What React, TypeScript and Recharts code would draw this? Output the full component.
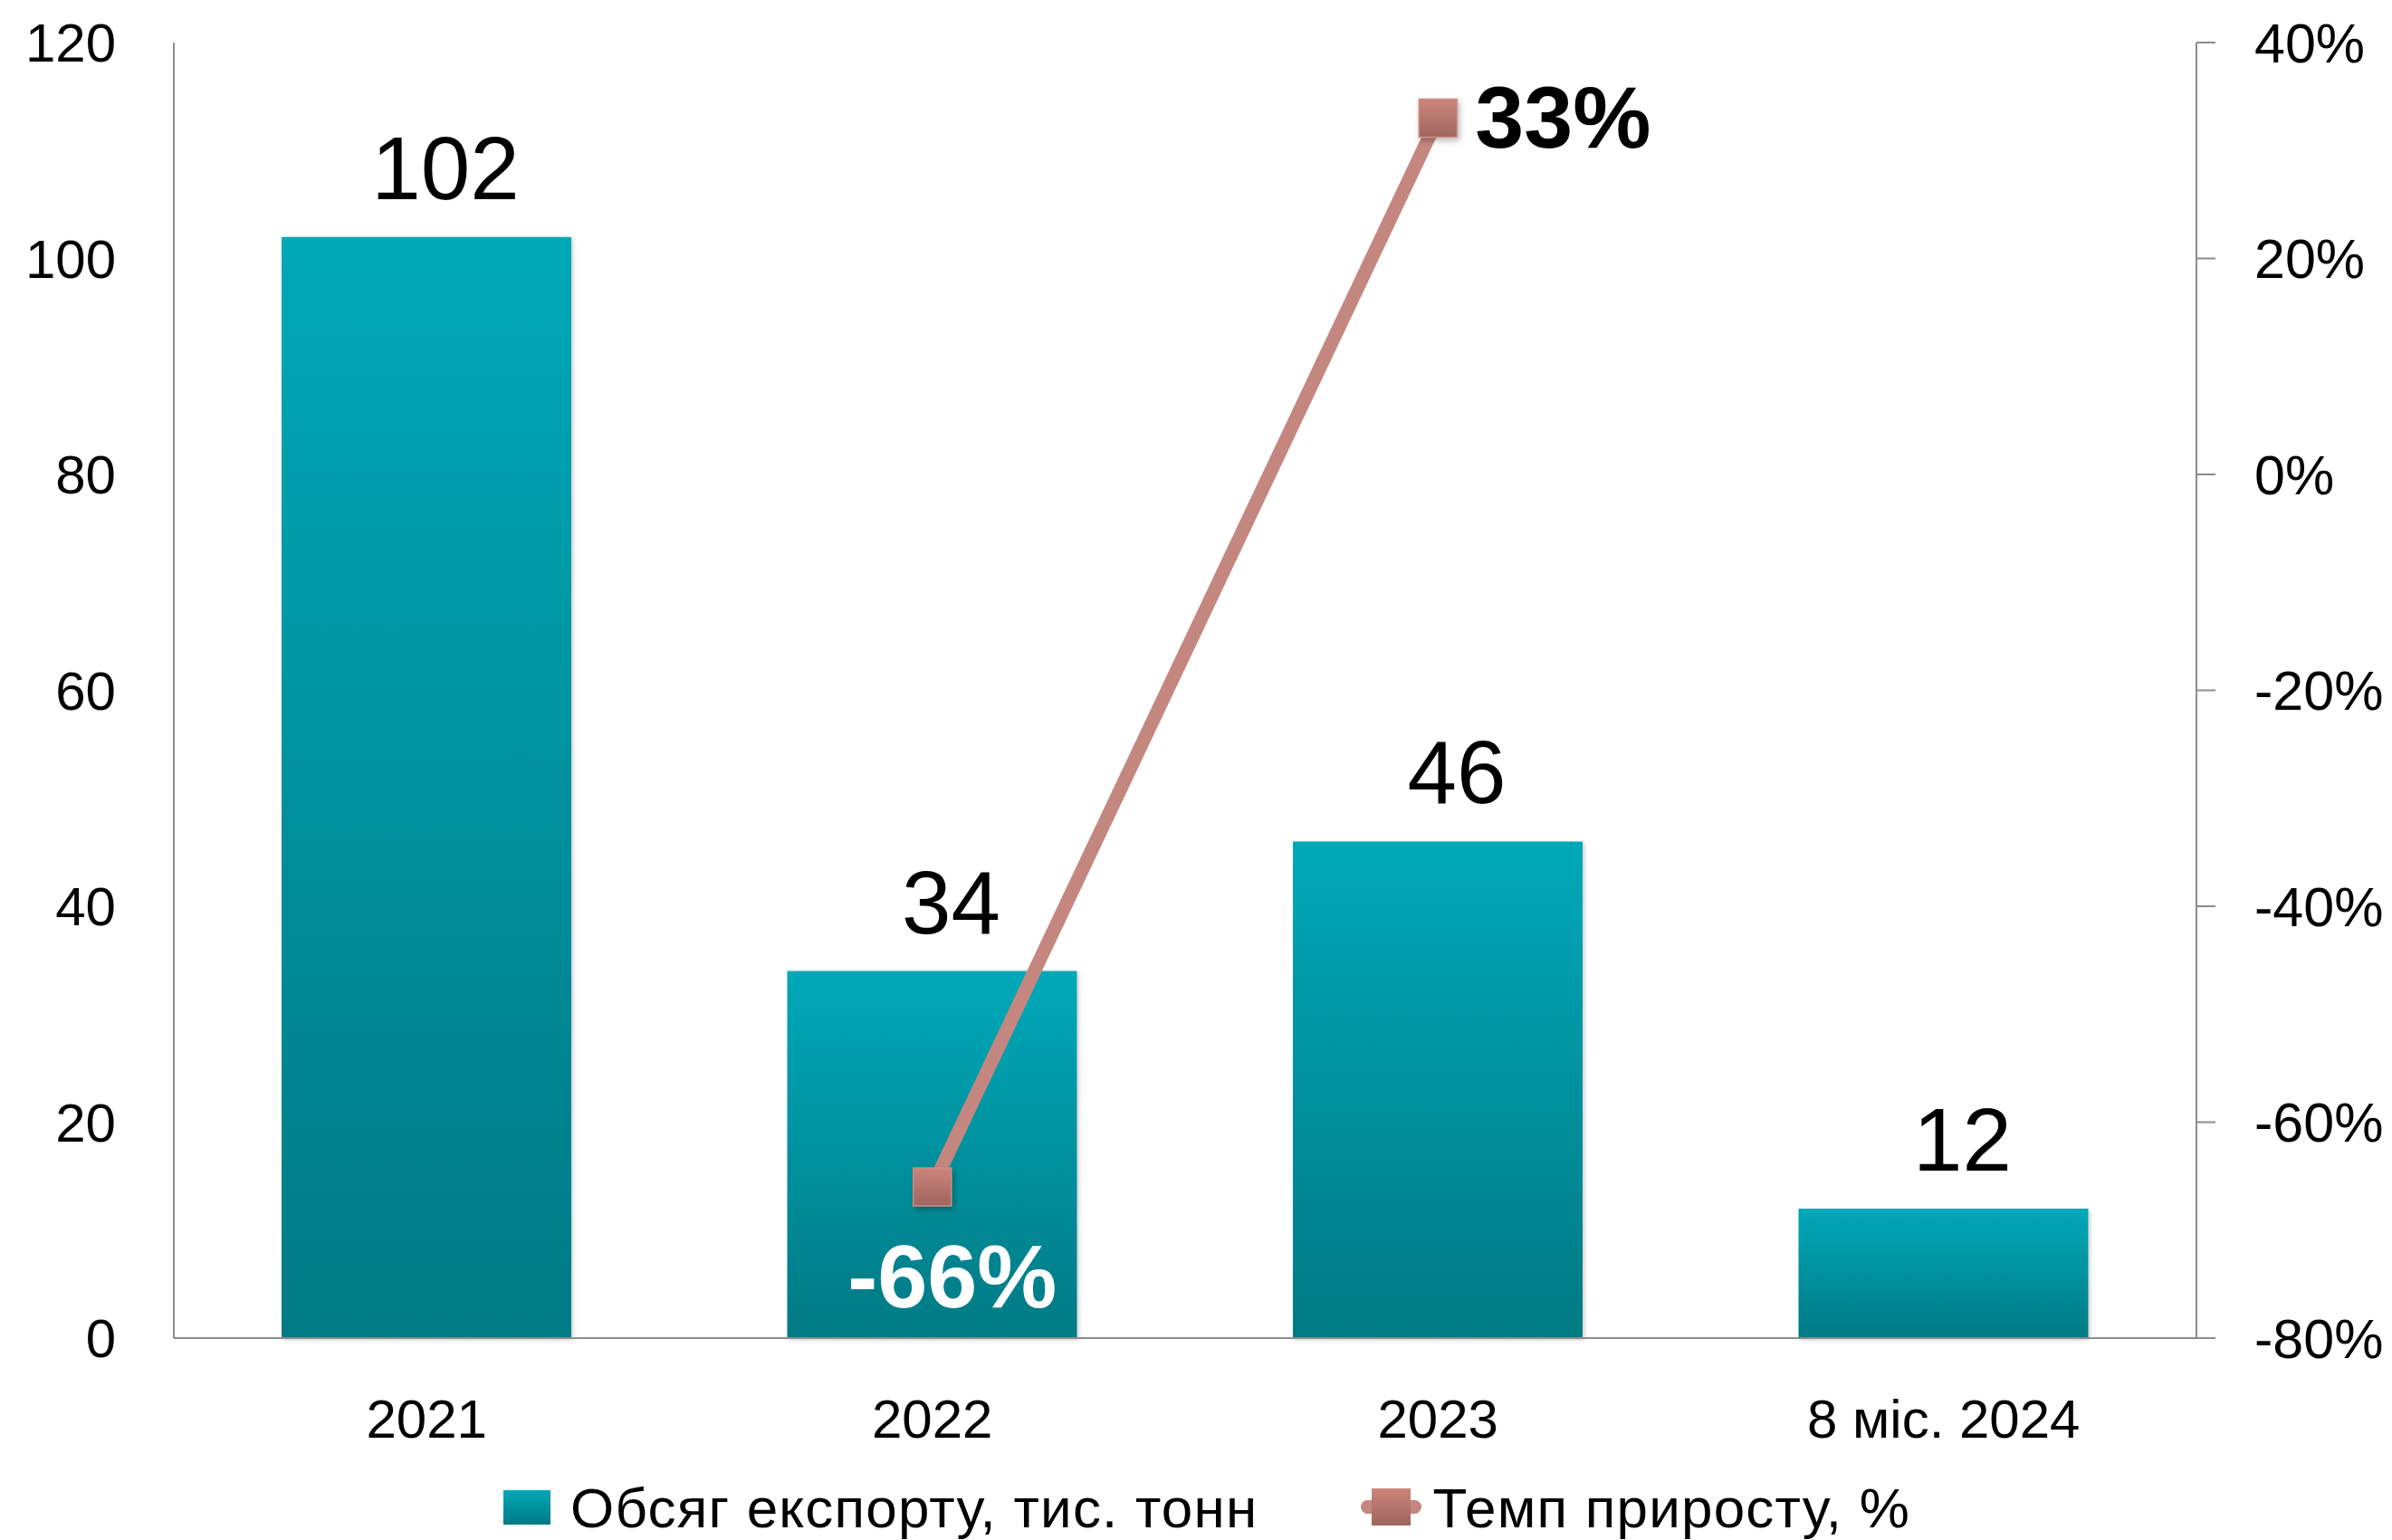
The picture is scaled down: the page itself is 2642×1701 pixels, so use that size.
import React from 'react';
import { ComposedChart, Bar, Line, XAxis, YAxis, LabelList } from 'recharts';

const categories = ['2021', '2022', '2023', '8 міс. 2024'];
const exportVolume = [102, 34, 46, 12];
const growthRate: (number | null)[] = [null, -66, 33, null];
const leftTicks = [0, 20, 40, 60, 80, 100, 120];
const rightTicks = [-80, -60, -40, -20, 0, 20, 40];
const seriesNames = ['Обсяг експорту, тис. тонн', 'Темп приросту, %'];

const data = categories.map((c, i) => ({
  name: c,
  volume: exportVolume[i],
  growth: growthRate[i],
}));

const FONT = '"Liberation Sans", Arial, sans-serif';
const AXIS = '#8c8c8c';
const LINE = '#C4877F';

const BarLabel = (props: any) => {
  const { x, y, width, value } = props;
  return (
    <text x={x + width / 2 + 21} y={y - 42} textAnchor="middle" fontSize={98} fill="#000" fontFamily={FONT}>
      {value}
    </text>
  );
};

const GrowthLabel = (props: any) => {
  const { x, y, value } = props;
  if (value == null || x == null || y == null) return null;
  if (value >= 0) {
    return (
      <text x={x + 41} y={y + 33} fontSize={97} fontWeight="bold" fill="#000" fontFamily={FONT}>
        {value}%
      </text>
    );
  }
  return (
    <text x={x + 22} y={y + 133} textAnchor="middle" fontSize={99} fontWeight="bold" fill="#fff" fontFamily={FONT}>
      {value}%
    </text>
  );
};

const SquareDot = (props: any) => {
  const { cx, cy, index } = props;
  if (cx == null || cy == null || props.value == null) return <g key={`d${index}`} />;
  return (
    <rect
      key={`d${index}`}
      x={cx - 21}
      y={cy - 21}
      width={42}
      height={42}
      fill="url(#markerGrad)"
      stroke="#CC8E86"
      strokeWidth={1.5}
      filter="url(#softShadow)"
    />
  );
};

export default function App() {
  return (
    <div
      style={{
        position: 'absolute',
        left: 0,
        top: 0,
        width: 2642,
        height: 1701,
        background: '#fff',
        fontFamily: FONT,
      }}
    >
      <svg width={0} height={0} style={{ position: 'absolute' }}>
        <defs>
          <linearGradient id="barGrad" x1="0" y1="0" x2="0" y2="1">
            <stop offset="0%" stopColor="#00A8B8" />
            <stop offset="100%" stopColor="#007A84" />
          </linearGradient>
          <linearGradient id="markerGrad" x1="0" y1="0" x2="0" y2="1">
            <stop offset="0%" stopColor="#CC857B" />
            <stop offset="100%" stopColor="#A0655F" />
          </linearGradient>
          <filter id="softShadow" x="-20%" y="-20%" width="150%" height="150%">
            <feDropShadow dx="2" dy="3" stdDeviation="3" floodColor="#000" floodOpacity="0.3" />
          </filter>
          <filter id="barShadow" x="-5%" y="-5%" width="110%" height="110%">
            <feDropShadow dx="2" dy="2" stdDeviation="2" floodColor="#000" floodOpacity="0.2" />
          </filter>
        </defs>
      </svg>
      <ComposedChart
        width={2642}
        height={1701}
        data={data}
        margin={{ top: 47, right: 0, bottom: 123, left: 0 }}
        barSize={320}
        style={{ fontFamily: FONT }}
      >
        <XAxis
          dataKey="name"
          tickLine={false}
          tickSize={0}
          tickMargin={67}
          axisLine={{ stroke: AXIS, strokeWidth: 2 }}
          tick={{ fontSize: 60, fill: '#000', fontFamily: FONT }}
          height={100}
          interval={0}
        />
        <YAxis
          yAxisId="left"
          domain={[0, 120]}
          ticks={leftTicks}
          width={192}
          tickLine={false}
          tickSize={0}
          tickMargin={64}
          axisLine={{ stroke: AXIS, strokeWidth: 2 }}
          tick={{ fontSize: 60, fill: '#000', fontFamily: FONT }}
          interval={0}
        />
        <YAxis
          yAxisId="right"
          orientation="right"
          domain={[-80, 40]}
          ticks={rightTicks}
          width={216}
          tickSize={21}
          tickMargin={43}
          tickLine={{ stroke: AXIS, strokeWidth: 2 }}
          axisLine={{ stroke: AXIS, strokeWidth: 2 }}
          tick={{ fontSize: 61, fill: '#000', fontFamily: FONT }}
          tickFormatter={(v: number) => `${v}%`}
          interval={0}
        />
        <Bar
          yAxisId="left"
          dataKey="volume"
          name={seriesNames[0]}
          fill="url(#barGrad)"
          filter="url(#barShadow)"
          isAnimationActive={false}
        >
          <LabelList dataKey="volume" content={BarLabel} />
        </Bar>
        <Line
          yAxisId="right"
          dataKey="growth"
          name={seriesNames[1]}
          stroke={LINE}
          strokeWidth={15}
          dot={SquareDot}
          activeDot={false}
          isAnimationActive={false}
        >
          <LabelList dataKey="growth" content={GrowthLabel} />
        </Line>
      </ComposedChart>
      <div
        style={{
          position: 'absolute',
          left: 556,
          top: 1630,
          height: 70,
          display: 'flex',
          alignItems: 'center',
          fontSize: 62,
          letterSpacing: 1.2,
          color: '#000',
          whiteSpace: 'nowrap',
        }}
      >
        <div
          style={{
            width: 52,
            height: 38,
            background: 'linear-gradient(#00A8B8, #007A84)',
            marginRight: 22,
          }}
        />
        <span>{seriesNames[0]}</span>
        <div style={{ position: 'relative', width: 67, height: 42, marginLeft: 114, marginRight: 12 }}>
          <div
            style={{
              position: 'absolute',
              left: 0,
              top: 13,
              width: 67,
              height: 15,
              borderRadius: 8,
              background: LINE,
            }}
          />
          <div
            style={{
              position: 'absolute',
              left: 12,
              top: 0,
              width: 43,
              height: 41,
              background: 'linear-gradient(#CC857B, #A0655F)',
            }}
          />
        </div>
        <span>{seriesNames[1]}</span>
      </div>
    </div>
  );
}
